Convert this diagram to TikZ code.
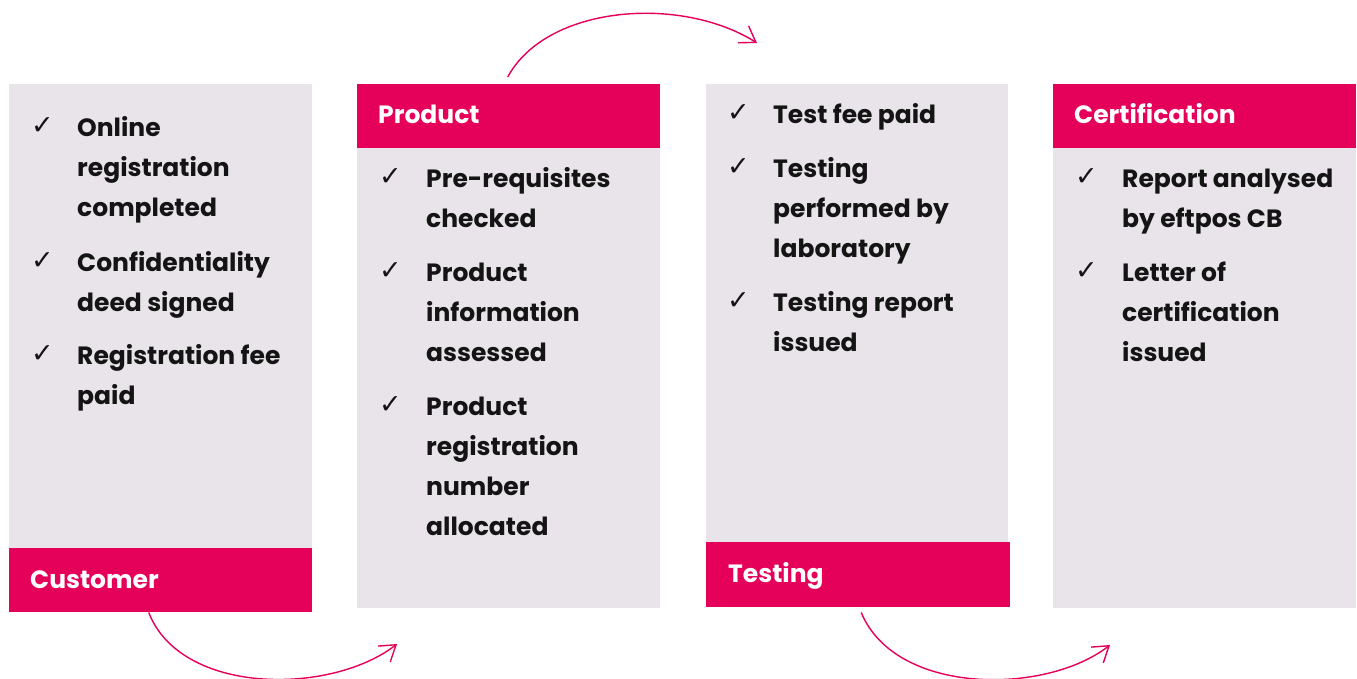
\documentclass[tikz,border=0pt]{standalone}
\usepackage{fontspec}
\setmainfont{Poppins}
\newfontfamily\symfont{DejaVu Sans}
\usetikzlibrary{arrows.meta,calc}
\definecolor{brandred}{RGB}{229,0,90}
\definecolor{panelgray}{RGB}{232,228,234}
\definecolor{txt}{RGB}{20,20,20}
\begin{document}
\begin{tikzpicture}[x=1pt,y=-1pt,
  panel/.style={fill=panelgray,draw=none,anchor=north west,inner sep=0,minimum width=303pt},
  headbar/.style={fill=brandred,draw=none,anchor=north west,inner sep=0,minimum width=303pt,minimum height=64pt},
  headtext/.style={anchor=base west,inner sep=0,text=white,font=\fontsize{25}{30}\selectfont\bfseries},
  item/.style={anchor=base west,inner sep=0,text=txt,font=\fontsize{25}{40}\selectfont\bfseries},
  tick/.style={anchor=base west,inner sep=0,text=txt,font=\symfont\fontsize{27}{30}\selectfont},
  flow/.style={draw=brandred,line width=1.4pt,-{Straight Barb[length=15pt,width=20pt,line width=1.4pt]}}]
\useasboundingbox (0,0) rectangle (1357,679);
% panels
\node[panel,minimum height=528pt] (p1) at (9,84) {};
\node[panel,minimum height=524pt] (p2) at (357,84) {};
\node[panel,minimum height=523pt,minimum width=302pt] (p3) at (706,84) {};
\node[panel,minimum height=524pt] (p4) at (1053,84) {};
% header bars
\node[headbar] (h1) at (9,548) {};
\node[headbar] (h2) at (357,84) {};
\node[headbar,minimum width=304pt,minimum height=65pt] (h3) at (706,542) {};
\node[headbar] (h4) at (1053,84) {};
\node[headtext] (t1) at (30,588) {Customer};
\node[headtext] (t2) at (378,124) {Product};
\node[headtext] (t3) at (728,582) {Testing};
\node[headtext] (t4) at (1074,124) {Certification};
% panel 1 items
\node[tick] (c11) at (31,135) {✓};
\node[item] (i11) at (77,137) {\parbox[t]{240pt}{Online\\registration\\completed}};
\node[tick] (c12) at (31,269) {✓};
\node[item] (i12) at (77,271) {\parbox[t]{240pt}{Confidentiality\\deed signed}};
\node[tick] (c13) at (31,362) {✓};
\node[item] (i13) at (77,364) {\parbox[t]{240pt}{Registration fee\\paid}};
% panel 2 items
\node[tick] (c21) at (379,186) {✓};
\node[item] (i21) at (426,188) {\parbox[t]{240pt}{Pre-requisites\\checked}};
\node[tick] (c22) at (379,279) {✓};
\node[item] (i22) at (426,281) {\parbox[t]{240pt}{Product\\information\\assessed}};
\node[tick] (c23) at (379,413) {✓};
\node[item] (i23) at (426,415) {\parbox[t]{240pt}{Product\\registration\\number\\allocated}};
% panel 3 items
\node[tick] (c31) at (727,122) {✓};
\node[item] (i31) at (773,124) {\parbox[t]{240pt}{Test fee paid}};
\node[tick] (c32) at (727,176) {✓};
\node[item] (i32) at (773,178) {\parbox[t]{240pt}{Testing\\performed by\\laboratory}};
\node[tick] (c33) at (727,309) {✓};
\node[item] (i33) at (773,311) {\parbox[t]{240pt}{Testing report\\issued}};
% panel 4 items
\node[tick] (c41) at (1075,186) {✓};
\node[item] (i41) at (1122,188) {\parbox[t]{240pt}{Report analysed\\by eftpos CB}};
\node[tick] (c42) at (1075,279) {✓};
\node[item] (i42) at (1122,281) {\parbox[t]{240pt}{Letter of\\certification\\issued}};
% flow arrows
\coordinate (e1) at (397,644);
\coordinate (e2) at (757,43);
\coordinate (e3) at (1110,645);
\draw[flow] ($(h1.south)+(-12,0)$) .. controls ($(h1.south)+(20,83)$) and ($(h1.south)+(170,83)$) .. (e1);
\draw[flow] ($(h2.north)+(-1,-7)$) .. controls ($(h2.north)+(38,-79)$) and ($(h2.north)+(172,-89)$) .. (e2);
\draw[flow] ($(h3.south)+(3,5)$) .. controls ($(h3.south)+(37,88)$) and ($(h3.south)+(187,88)$) .. (e3);
\end{tikzpicture}
\end{document}
